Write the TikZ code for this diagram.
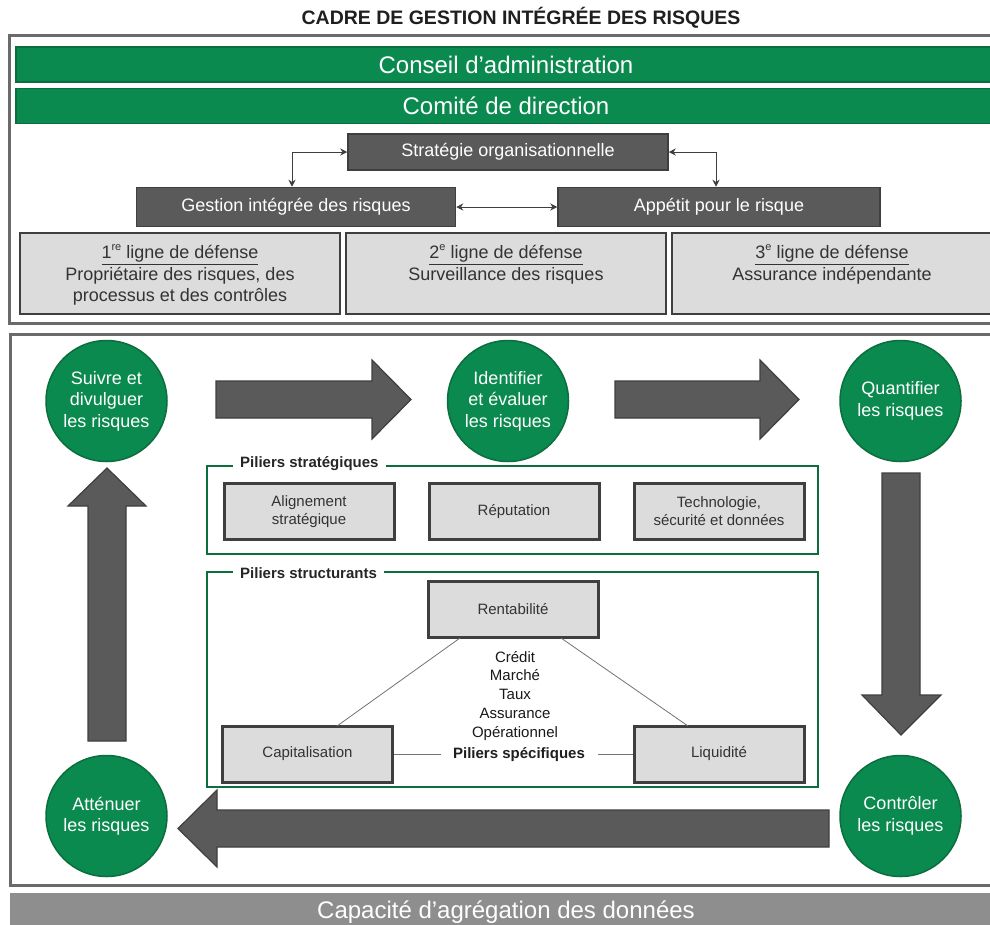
\documentclass[tikz,border=0pt]{standalone}
\usepackage{fontspec}
\setmainfont{Liberation Sans}
\usetikzlibrary{arrows.meta,calc}
\definecolor{grn}{HTML}{0A8A4F}
\definecolor{grnd}{HTML}{0B6E3C}
\definecolor{dbox}{HTML}{5A5A5A}
\definecolor{dline}{HTML}{3F3F3F}
\definecolor{lbox}{HTML}{DCDCDC}
\definecolor{framec}{HTML}{6A6A6A}
\definecolor{bbar}{HTML}{8E8E8E}
\definecolor{txt}{HTML}{333333}
\newcommand{\supx}[1]{\raisebox{0.45em}{\fontsize{11}{11}\selectfont #1}}
\begin{document}
\begin{tikzpicture}[x=1pt,y=-1pt,
  greenbar/.style={fill=grn, draw=grnd, line width=1.5, text=white, font=\fontsize{24}{28}\selectfont, minimum width=980, minimum height=35, inner sep=0},
  darkbox/.style={fill=dbox, draw=dline, line width=1.5, text=white, font=\fontsize{18}{21}\selectfont, inner sep=0},
  linebox/.style={fill=lbox, draw=dline, line width=2.5, minimum width=320, minimum height=81, inner sep=0},
  linetext/.style={text=txt, align=center, anchor=north, font=\fontsize{18}{21.5}\selectfont, inner sep=0},
  stepcircle/.style={circle, fill=grn, draw=grnd, line width=1.5, minimum size=121, text=white, align=center, font=\fontsize{18}{21.5}\selectfont, inner sep=0},
  pillar/.style={fill=lbox, draw=dline, line width=3, minimum width=170, minimum height=56, text=txt, align=center, font=\fontsize{15}{18}\selectfont, inner sep=0},
  gframe/.style={draw=grnd, line width=2.5},
  glabel/.style={fill=white, font=\bfseries\fontsize{15}{18}\selectfont, text=black!85, inner xsep=7, inner ysep=1},
  blockarrow/.style={fill=dbox, draw=dline, line width=1.2, line join=miter},
  thinline/.style={draw=black!55, line width=0.8},
  smallarrow/.style={{Stealth[length=7,width=7]}-{Stealth[length=7,width=7]}, draw=dline, line width=0.9},
  frameline/.style={draw=framec, line width=3}
]
\useasboundingbox (0,0) rectangle (990,924);
\fill[white] (0,0) rectangle (990,924);

% title
\node[font=\bfseries\fontsize{19.5}{22}\selectfont, text=black!88] (title) at (521,18) {CADRE DE GESTION INTÉGRÉE DES RISQUES};

% top frame
\draw[frameline] (9,35) rectangle (1000,323);
\node[greenbar] (conseil) at (506,64.5) {Conseil d’administration};
\node[greenbar] (comite) at (506,106) {Comité de direction};

\node[darkbox, minimum width=320, minimum height=36] (strat) at (508,152) {Stratégie organisationnelle};
\node[darkbox, minimum width=319, minimum height=39] (gir) at (296,207) {Gestion intégrée des risques};
\node[darkbox, minimum width=322, minimum height=39] (app) at (719,207) {Appétit pour le risque};

\draw[smallarrow] (strat.west) -| ($(gir.north)+(-4,0)$);
\draw[smallarrow] (strat.east) -| ($(app.north)+(-3,0)$);
\draw[smallarrow] (gir.east) -- (app.west);

\node[linebox] (l1) at (180,273.5) {};
\node[linebox] (l2) at (506,273.5) {};
\node[linebox] (l3) at (832,273.5) {};
\node[linetext] (t1) at ($(l1.north)+(0,13)$) {\underline{1\supx{re} ligne de défense}\\Propriétaire des risques, des\\processus et des contrôles};
\node[linetext] (t2) at ($(l2.north)+(0,13)$) {\underline{2\supx{e} ligne de défense}\\Surveillance des risques};
\node[linetext] (t3) at ($(l3.north)+(0,13)$) {\underline{3\supx{e} ligne de défense}\\Assurance indépendante};

% lower frame
\draw[frameline] (10,334) rectangle (1000,885);

% block arrows
\filldraw[blockarrow] (216,381) -- (372,381) -- (372,360) -- (411,399.5) -- (372,439) -- (372,418) -- (216,418) -- cycle;
\filldraw[blockarrow] (615,381) -- (760,381) -- (760,360) -- (799,399.5) -- (760,439) -- (760,418) -- (615,418) -- cycle;
\filldraw[blockarrow] (882,473) -- (920,473) -- (920,695) -- (941,695) -- (901,735) -- (862,695) -- (882,695) -- cycle;
\filldraw[blockarrow] (829,810) -- (829,847) -- (217,847) -- (217,867) -- (178,828.5) -- (217,790) -- (217,810) -- cycle;
\filldraw[blockarrow] (88,741) -- (88,506) -- (68,506) -- (107,468) -- (146,506) -- (126,506) -- (126,741) -- cycle;

% circles
\node[stepcircle] (suivre) at (106.5,401) {Suivre et\\divulguer\\les risques};
\node[stepcircle] (ident) at (508,401) {Identifier\\et évaluer\\les risques};
\node[stepcircle] (quant) at (900.5,401) {Quantifier\\les risques};
\node[stepcircle] (attn) at (106.5,816) {Atténuer\\les risques};
\node[stepcircle] (ctrl) at (900.5,816) {Contrôler\\les risques};

% piliers strategiques
\draw[gframe] (207,466) rectangle (818,554);
\node[glabel, anchor=west] (ps) at (233,464) {Piliers stratégiques};
\node[pillar] (align) at (309,511.5) {Alignement\\stratégique};
\node[pillar] (repu) at (514,511.5) {Réputation};
\node[pillar] (tech) at (719,511.5) {Technologie,\\sécurité et données};

% piliers structurants
\draw[gframe] (207,572) rectangle (818,787);
\node[glabel, anchor=west] (pst) at (233,573) {Piliers structurants};
\node[pillar, minimum height=56] (rent) at (513,609) {Rentabilité};
\node[pillar] (capi) at (307.5,754) {Capitalisation};
\node[pillar] (liq) at (719,754) {Liquidité};
\node[align=center, text=black!90, font=\fontsize{15}{18.7}\selectfont, inner sep=0, anchor=north] (risks) at (515,651) {Crédit\\Marché\\Taux\\Assurance\\Opérationnel};
\node[font=\bfseries\fontsize{15}{18}\selectfont, text=black!88, inner sep=0] (spec) at (519,755) {Piliers spécifiques};
\coordinate (sl) at (441,754);
\coordinate (sr) at (598,754);
\draw[thinline] (460,638) -- (337,726);
\draw[thinline] (561,638) -- (688,726);
\draw[thinline] (capi.east) -- (sl);
\draw[thinline] (sr) -- (liq.west);

% bottom bar
\fill[bbar] (10,893) rectangle (1000,930);
\node[text=white, font=\fontsize{24}{28}\selectfont] (capa) at (506,912) {Capacité d’agrégation des données};
\end{tikzpicture}
\end{document}
